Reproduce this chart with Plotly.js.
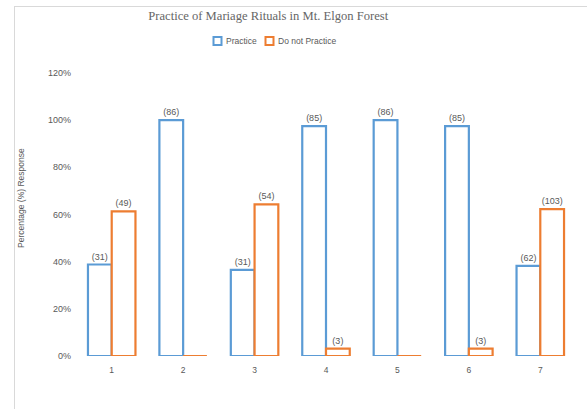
<!DOCTYPE html>
<html>
<head>
<meta charset="utf-8">
<script src="https://cdn.plot.ly/plotly-3.0.1.min.js"></script>
<style>
html,body{margin:0;padding:0;background:#fff;}
#frame{position:absolute;left:14px;top:6px;width:620px;height:440px;border:1px solid #d9d9d9;box-sizing:border-box;}
#chart{position:absolute;left:0;top:0;width:587px;height:409px;}
</style>
</head>
<body>
<div id="frame"></div>
<div id="chart"></div>
<script>
const categories = ['1','2','3','4','5','6','7'];
const practicePct = [38.8, 100, 36.5, 97.5, 100, 97.5, 38.2];
const notPracticePct = [61.3, 0, 64.3, 3.1, 0, 3.1, 62.3];
const practiceCounts = ['(31)','(86)','(31)','(85)','(86)','(85)','(62)'];
const notPracticeCounts = ['(49)','','(54)','(3)','','(3)','(103)'];
const seriesNames = ['Practice','Do not Practice'];
const seriesColors = ['#5B9BD5','#ED7D31'];
const yTickVals = [0,20,40,60,80,100,120];
const yTickText = ['0%','20%','40%','60%','80%','100%','120%'];

const grey = '#595959';
const sans = 'Liberation Sans, Arial, sans-serif';
const labelFont = {family:sans, size:9, color:grey};

const traces = [
  {type:'bar', name:seriesNames[0], x:categories, y:practicePct, text:practiceCounts,
   textposition:'outside', textfont:labelFont, cliponaxis:false,
   marker:{color:'#ffffff', line:{color:seriesColors[0], width:2.2}}, hoverinfo:'none'},
  {type:'bar', name:seriesNames[1], x:categories, y:notPracticePct, text:notPracticeCounts,
   textposition:'outside', textfont:labelFont, cliponaxis:false,
   marker:{color:'#ffffff', line:{color:seriesColors[1], width:2.2}}, hoverinfo:'none'}
];

// custom legend (pixel helpers for plot area l=76,w=500,t=73,h=283)
const L=76, W=500, B=356, H=283;
const px = v => (v-L)/W;
const py = v => (B-v)/H;
const legendItems = [{sq:213.5, tx:223.5}, {sq:265.5, tx:275.5}];
const shapes = legendItems.map((it,i)=>({type:'rect', xref:'paper', yref:'paper',
  x0:px(it.sq), x1:px(it.sq+8), y0:py(45), y1:py(37), line:{color:seriesColors[i], width:2}, fillcolor:'#ffffff'}));
const legendAnn = legendItems.map((it,i)=>({text:seriesNames[i], xref:'paper', yref:'paper', x:px(it.tx), y:py(41),
  xanchor:'left', yanchor:'middle', showarrow:false, font:{family:sans, size:8.5, color:grey}}));

const layout = {
  width:587, height:409,
  paper_bgcolor:'rgba(0,0,0,0)', plot_bgcolor:'rgba(0,0,0,0)',
  margin:{l:76, r:11, t:73, b:53},
  barmode:'group', bargap:0.335, bargroupgap:0,
  title:{text:'Practice of Mariage Rituals in Mt. Elgon Forest', font:{family:'Liberation Serif, Times New Roman, serif', size:12.6, color:'#666666'},
         x:0.457, xanchor:'center', y:0.963, yanchor:'middle'},
  showlegend:false,
  shapes:shapes,
  xaxis:{type:'category', showgrid:false, zeroline:false, showline:false, ticks:'', ticklabelstandoff:7,
         tickfont:{family:sans, size:8.5, color:grey}, fixedrange:true},
  yaxis:{range:[0,120], tickvals:yTickVals, ticktext:yTickText, showgrid:false, zeroline:false, showline:false, ticks:'',
         ticklabelstandoff:4, tickfont:{family:sans, size:9, color:grey}, fixedrange:true},
  annotations:[{text:'Percentage (%) Response', xref:'paper', yref:'paper', x:px(21), y:py(198), xanchor:'center', yanchor:'middle',
                textangle:-90, showarrow:false, font:{family:sans, size:8.5, color:grey}}].concat(legendAnn)
};

Plotly.newPlot('chart', traces, layout, {staticPlot:true, displayModeBar:false});
</script>
</body>
</html>
